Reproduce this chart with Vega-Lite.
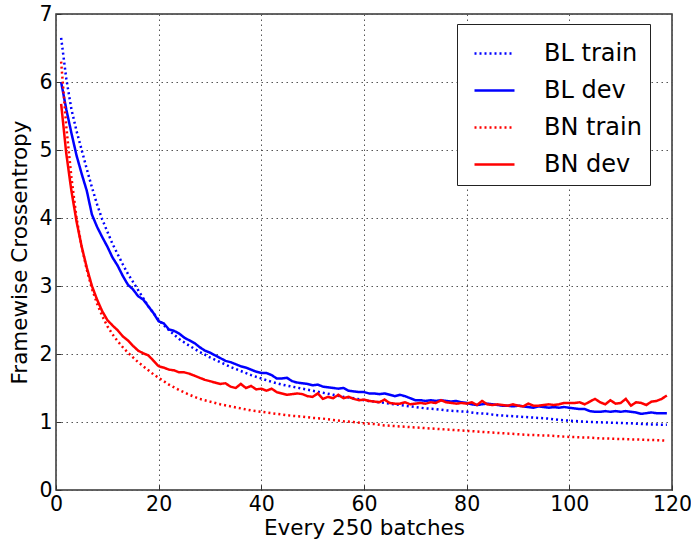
{
  "$schema": "https://vega.github.io/schema/vega-lite/v6.json",
  "width": 616,
  "height": 476,
  "autosize": "none",
  "padding": {"left": 56, "top": 14, "right": 19, "bottom": 52},
  "background": "white",
  "config": {
    "font": "DejaVu Sans",
    "view": {"stroke": "#333", "strokeWidth": 1.5},
    "axis": {
      "labelFont": "DejaVu Sans",
      "titleFont": "DejaVu Sans",
      "labelFontSize": 20.5,
      "titleFontSize": 21.5,
      "labelColor": "black",
      "titleColor": "black",
      "titleFontWeight": "normal",
      "gridColor": "#555",
      "gridDash": [1.5, 3.5],
      "gridWidth": 1,
      "domain": false,
      "tickColor": "#333",
      "tickSize": -5,
      "labelPadding": 9
    }
  },
  "data": {
    "values": [
      {"x":1,"s":"BL train","y":6.65},{"x":2,"s":"BL train","y":6.05},{"x":3,"s":"BL train","y":5.6},{"x":4,"s":"BL train","y":5.28},{"x":5,"s":"BL train","y":5.0},{"x":6,"s":"BL train","y":4.72},{"x":7,"s":"BL train","y":4.45},{"x":8,"s":"BL train","y":4.2},{"x":9,"s":"BL train","y":3.98},{"x":10,"s":"BL train","y":3.8},{"x":11,"s":"BL train","y":3.62},{"x":12,"s":"BL train","y":3.47},{"x":13,"s":"BL train","y":3.32},{"x":14,"s":"BL train","y":3.18},{"x":15,"s":"BL train","y":3.06},{"x":16,"s":"BL train","y":2.94},{"x":17,"s":"BL train","y":2.82},{"x":18,"s":"BL train","y":2.7},{"x":19,"s":"BL train","y":2.6},{"x":20,"s":"BL train","y":2.5},{"x":22,"s":"BL train","y":2.35},{"x":24,"s":"BL train","y":2.22},{"x":26,"s":"BL train","y":2.12},{"x":28,"s":"BL train","y":2.03},{"x":30,"s":"BL train","y":1.95},{"x":32,"s":"BL train","y":1.88},{"x":34,"s":"BL train","y":1.81},{"x":36,"s":"BL train","y":1.75},{"x":38,"s":"BL train","y":1.69},{"x":40,"s":"BL train","y":1.64},{"x":42,"s":"BL train","y":1.59},{"x":44,"s":"BL train","y":1.55},{"x":46,"s":"BL train","y":1.52},{"x":48,"s":"BL train","y":1.49},{"x":50,"s":"BL train","y":1.46},{"x":52,"s":"BL train","y":1.43},{"x":54,"s":"BL train","y":1.4},{"x":56,"s":"BL train","y":1.37},{"x":58,"s":"BL train","y":1.35},{"x":60,"s":"BL train","y":1.32},{"x":62,"s":"BL train","y":1.3},{"x":64,"s":"BL train","y":1.28},{"x":66,"s":"BL train","y":1.26},{"x":68,"s":"BL train","y":1.24},{"x":70,"s":"BL train","y":1.22},{"x":72,"s":"BL train","y":1.2},{"x":74,"s":"BL train","y":1.19},{"x":76,"s":"BL train","y":1.17},{"x":78,"s":"BL train","y":1.16},{"x":80,"s":"BL train","y":1.15},{"x":82,"s":"BL train","y":1.13},{"x":84,"s":"BL train","y":1.12},{"x":86,"s":"BL train","y":1.1},{"x":88,"s":"BL train","y":1.09},{"x":90,"s":"BL train","y":1.08},{"x":92,"s":"BL train","y":1.07},{"x":94,"s":"BL train","y":1.06},{"x":96,"s":"BL train","y":1.05},{"x":98,"s":"BL train","y":1.03},{"x":100,"s":"BL train","y":1.02},{"x":102,"s":"BL train","y":1.01},{"x":104,"s":"BL train","y":1.0},{"x":106,"s":"BL train","y":0.995},{"x":108,"s":"BL train","y":0.99},{"x":110,"s":"BL train","y":0.985},{"x":112,"s":"BL train","y":0.98},{"x":114,"s":"BL train","y":0.97},{"x":116,"s":"BL train","y":0.965},{"x":118,"s":"BL train","y":0.96},{"x":119,"s":"BL train","y":0.96},

      {"x":1,"s":"BL dev","y":6.0},{"x":2,"s":"BL dev","y":5.6},{"x":3,"s":"BL dev","y":5.25},{"x":4,"s":"BL dev","y":4.92},{"x":5,"s":"BL dev","y":4.65},{"x":6,"s":"BL dev","y":4.4},{"x":7,"s":"BL dev","y":4.05},{"x":8,"s":"BL dev","y":3.87},{"x":9,"s":"BL dev","y":3.72},{"x":10,"s":"BL dev","y":3.58},{"x":11,"s":"BL dev","y":3.42},{"x":12,"s":"BL dev","y":3.3},{"x":13,"s":"BL dev","y":3.15},{"x":14,"s":"BL dev","y":3.02},{"x":15,"s":"BL dev","y":2.95},{"x":16,"s":"BL dev","y":2.85},{"x":17,"s":"BL dev","y":2.8},{"x":18,"s":"BL dev","y":2.7},{"x":19,"s":"BL dev","y":2.6},{"x":20,"s":"BL dev","y":2.48},{"x":21,"s":"BL dev","y":2.45},{"x":22,"s":"BL dev","y":2.36},{"x":23,"s":"BL dev","y":2.34},{"x":24,"s":"BL dev","y":2.3},{"x":25,"s":"BL dev","y":2.24},{"x":26,"s":"BL dev","y":2.2},{"x":27,"s":"BL dev","y":2.16},{"x":28,"s":"BL dev","y":2.1},{"x":29,"s":"BL dev","y":2.05},{"x":30,"s":"BL dev","y":2.02},{"x":31,"s":"BL dev","y":1.98},{"x":32,"s":"BL dev","y":1.94},{"x":33,"s":"BL dev","y":1.9},{"x":34,"s":"BL dev","y":1.88},{"x":35,"s":"BL dev","y":1.85},{"x":36,"s":"BL dev","y":1.82},{"x":37,"s":"BL dev","y":1.8},{"x":38,"s":"BL dev","y":1.77},{"x":39,"s":"BL dev","y":1.74},{"x":40,"s":"BL dev","y":1.72},{"x":41,"s":"BL dev","y":1.72},{"x":42,"s":"BL dev","y":1.69},{"x":43,"s":"BL dev","y":1.64},{"x":44,"s":"BL dev","y":1.64},{"x":45,"s":"BL dev","y":1.65},{"x":46,"s":"BL dev","y":1.6},{"x":47,"s":"BL dev","y":1.58},{"x":48,"s":"BL dev","y":1.57},{"x":49,"s":"BL dev","y":1.56},{"x":50,"s":"BL dev","y":1.54},{"x":51,"s":"BL dev","y":1.55},{"x":52,"s":"BL dev","y":1.52},{"x":53,"s":"BL dev","y":1.51},{"x":54,"s":"BL dev","y":1.5},{"x":55,"s":"BL dev","y":1.49},{"x":56,"s":"BL dev","y":1.5},{"x":57,"s":"BL dev","y":1.46},{"x":58,"s":"BL dev","y":1.45},{"x":59,"s":"BL dev","y":1.44},{"x":60,"s":"BL dev","y":1.44},{"x":61,"s":"BL dev","y":1.42},{"x":62,"s":"BL dev","y":1.42},{"x":63,"s":"BL dev","y":1.41},{"x":64,"s":"BL dev","y":1.42},{"x":65,"s":"BL dev","y":1.4},{"x":66,"s":"BL dev","y":1.38},{"x":67,"s":"BL dev","y":1.4},{"x":68,"s":"BL dev","y":1.38},{"x":69,"s":"BL dev","y":1.35},{"x":70,"s":"BL dev","y":1.32},{"x":71,"s":"BL dev","y":1.32},{"x":72,"s":"BL dev","y":1.31},{"x":73,"s":"BL dev","y":1.32},{"x":74,"s":"BL dev","y":1.31},{"x":75,"s":"BL dev","y":1.32},{"x":76,"s":"BL dev","y":1.31},{"x":77,"s":"BL dev","y":1.3},{"x":78,"s":"BL dev","y":1.31},{"x":79,"s":"BL dev","y":1.29},{"x":80,"s":"BL dev","y":1.28},{"x":81,"s":"BL dev","y":1.26},{"x":82,"s":"BL dev","y":1.25},{"x":83,"s":"BL dev","y":1.26},{"x":84,"s":"BL dev","y":1.27},{"x":85,"s":"BL dev","y":1.26},{"x":86,"s":"BL dev","y":1.25},{"x":87,"s":"BL dev","y":1.24},{"x":88,"s":"BL dev","y":1.24},{"x":89,"s":"BL dev","y":1.23},{"x":90,"s":"BL dev","y":1.24},{"x":91,"s":"BL dev","y":1.23},{"x":92,"s":"BL dev","y":1.22},{"x":93,"s":"BL dev","y":1.21},{"x":94,"s":"BL dev","y":1.23},{"x":95,"s":"BL dev","y":1.22},{"x":96,"s":"BL dev","y":1.21},{"x":97,"s":"BL dev","y":1.22},{"x":98,"s":"BL dev","y":1.21},{"x":99,"s":"BL dev","y":1.22},{"x":100,"s":"BL dev","y":1.21},{"x":101,"s":"BL dev","y":1.2},{"x":102,"s":"BL dev","y":1.19},{"x":103,"s":"BL dev","y":1.19},{"x":104,"s":"BL dev","y":1.16},{"x":105,"s":"BL dev","y":1.15},{"x":106,"s":"BL dev","y":1.15},{"x":107,"s":"BL dev","y":1.16},{"x":108,"s":"BL dev","y":1.15},{"x":109,"s":"BL dev","y":1.16},{"x":110,"s":"BL dev","y":1.15},{"x":111,"s":"BL dev","y":1.16},{"x":112,"s":"BL dev","y":1.15},{"x":113,"s":"BL dev","y":1.14},{"x":114,"s":"BL dev","y":1.12},{"x":115,"s":"BL dev","y":1.13},{"x":116,"s":"BL dev","y":1.14},{"x":117,"s":"BL dev","y":1.13},{"x":118,"s":"BL dev","y":1.13},{"x":119,"s":"BL dev","y":1.13},

      {"x":1,"s":"BN train","y":6.3},{"x":2,"s":"BN train","y":5.35},{"x":3,"s":"BN train","y":4.6},{"x":4,"s":"BN train","y":4.0},{"x":5,"s":"BN train","y":3.58},{"x":6,"s":"BN train","y":3.24},{"x":7,"s":"BN train","y":2.96},{"x":8,"s":"BN train","y":2.74},{"x":9,"s":"BN train","y":2.56},{"x":10,"s":"BN train","y":2.41},{"x":11,"s":"BN train","y":2.29},{"x":12,"s":"BN train","y":2.19},{"x":13,"s":"BN train","y":2.1},{"x":14,"s":"BN train","y":2.02},{"x":15,"s":"BN train","y":1.95},{"x":16,"s":"BN train","y":1.88},{"x":17,"s":"BN train","y":1.82},{"x":18,"s":"BN train","y":1.76},{"x":19,"s":"BN train","y":1.7},{"x":20,"s":"BN train","y":1.65},{"x":22,"s":"BN train","y":1.55},{"x":24,"s":"BN train","y":1.47},{"x":26,"s":"BN train","y":1.4},{"x":28,"s":"BN train","y":1.34},{"x":30,"s":"BN train","y":1.3},{"x":32,"s":"BN train","y":1.26},{"x":34,"s":"BN train","y":1.23},{"x":36,"s":"BN train","y":1.2},{"x":38,"s":"BN train","y":1.17},{"x":40,"s":"BN train","y":1.15},{"x":42,"s":"BN train","y":1.13},{"x":44,"s":"BN train","y":1.11},{"x":46,"s":"BN train","y":1.09},{"x":48,"s":"BN train","y":1.08},{"x":50,"s":"BN train","y":1.06},{"x":52,"s":"BN train","y":1.05},{"x":54,"s":"BN train","y":1.03},{"x":56,"s":"BN train","y":1.01},{"x":58,"s":"BN train","y":1.0},{"x":60,"s":"BN train","y":0.98},{"x":62,"s":"BN train","y":0.97},{"x":64,"s":"BN train","y":0.95},{"x":66,"s":"BN train","y":0.94},{"x":68,"s":"BN train","y":0.93},{"x":70,"s":"BN train","y":0.92},{"x":72,"s":"BN train","y":0.91},{"x":74,"s":"BN train","y":0.9},{"x":76,"s":"BN train","y":0.89},{"x":78,"s":"BN train","y":0.88},{"x":80,"s":"BN train","y":0.87},{"x":82,"s":"BN train","y":0.86},{"x":84,"s":"BN train","y":0.85},{"x":86,"s":"BN train","y":0.84},{"x":88,"s":"BN train","y":0.83},{"x":90,"s":"BN train","y":0.82},{"x":92,"s":"BN train","y":0.81},{"x":94,"s":"BN train","y":0.805},{"x":96,"s":"BN train","y":0.8},{"x":98,"s":"BN train","y":0.79},{"x":100,"s":"BN train","y":0.78},{"x":102,"s":"BN train","y":0.775},{"x":104,"s":"BN train","y":0.77},{"x":106,"s":"BN train","y":0.76},{"x":108,"s":"BN train","y":0.755},{"x":110,"s":"BN train","y":0.75},{"x":112,"s":"BN train","y":0.745},{"x":114,"s":"BN train","y":0.74},{"x":116,"s":"BN train","y":0.735},{"x":118,"s":"BN train","y":0.73},{"x":119,"s":"BN train","y":0.725},

      {"x":1,"s":"BN dev","y":5.68},{"x":2,"s":"BN dev","y":4.95},{"x":3,"s":"BN dev","y":4.4},{"x":4,"s":"BN dev","y":3.95},{"x":5,"s":"BN dev","y":3.58},{"x":6,"s":"BN dev","y":3.27},{"x":7,"s":"BN dev","y":3.0},{"x":8,"s":"BN dev","y":2.8},{"x":9,"s":"BN dev","y":2.63},{"x":10,"s":"BN dev","y":2.5},{"x":11,"s":"BN dev","y":2.42},{"x":12,"s":"BN dev","y":2.35},{"x":13,"s":"BN dev","y":2.26},{"x":14,"s":"BN dev","y":2.2},{"x":15,"s":"BN dev","y":2.12},{"x":16,"s":"BN dev","y":2.05},{"x":17,"s":"BN dev","y":2.01},{"x":18,"s":"BN dev","y":1.98},{"x":19,"s":"BN dev","y":1.9},{"x":20,"s":"BN dev","y":1.82},{"x":21,"s":"BN dev","y":1.8},{"x":22,"s":"BN dev","y":1.77},{"x":23,"s":"BN dev","y":1.76},{"x":24,"s":"BN dev","y":1.73},{"x":25,"s":"BN dev","y":1.73},{"x":26,"s":"BN dev","y":1.71},{"x":27,"s":"BN dev","y":1.68},{"x":28,"s":"BN dev","y":1.65},{"x":29,"s":"BN dev","y":1.62},{"x":30,"s":"BN dev","y":1.6},{"x":31,"s":"BN dev","y":1.58},{"x":32,"s":"BN dev","y":1.56},{"x":33,"s":"BN dev","y":1.57},{"x":34,"s":"BN dev","y":1.52},{"x":35,"s":"BN dev","y":1.5},{"x":36,"s":"BN dev","y":1.56},{"x":37,"s":"BN dev","y":1.5},{"x":38,"s":"BN dev","y":1.53},{"x":39,"s":"BN dev","y":1.48},{"x":40,"s":"BN dev","y":1.49},{"x":41,"s":"BN dev","y":1.46},{"x":42,"s":"BN dev","y":1.49},{"x":43,"s":"BN dev","y":1.44},{"x":44,"s":"BN dev","y":1.42},{"x":45,"s":"BN dev","y":1.4},{"x":46,"s":"BN dev","y":1.41},{"x":47,"s":"BN dev","y":1.42},{"x":48,"s":"BN dev","y":1.41},{"x":49,"s":"BN dev","y":1.38},{"x":50,"s":"BN dev","y":1.37},{"x":51,"s":"BN dev","y":1.42},{"x":52,"s":"BN dev","y":1.34},{"x":53,"s":"BN dev","y":1.37},{"x":54,"s":"BN dev","y":1.35},{"x":55,"s":"BN dev","y":1.4},{"x":56,"s":"BN dev","y":1.35},{"x":57,"s":"BN dev","y":1.37},{"x":58,"s":"BN dev","y":1.34},{"x":59,"s":"BN dev","y":1.32},{"x":60,"s":"BN dev","y":1.33},{"x":61,"s":"BN dev","y":1.31},{"x":62,"s":"BN dev","y":1.3},{"x":63,"s":"BN dev","y":1.29},{"x":64,"s":"BN dev","y":1.33},{"x":65,"s":"BN dev","y":1.28},{"x":66,"s":"BN dev","y":1.27},{"x":67,"s":"BN dev","y":1.27},{"x":68,"s":"BN dev","y":1.29},{"x":69,"s":"BN dev","y":1.26},{"x":70,"s":"BN dev","y":1.27},{"x":71,"s":"BN dev","y":1.28},{"x":72,"s":"BN dev","y":1.27},{"x":73,"s":"BN dev","y":1.29},{"x":74,"s":"BN dev","y":1.28},{"x":75,"s":"BN dev","y":1.32},{"x":76,"s":"BN dev","y":1.29},{"x":77,"s":"BN dev","y":1.28},{"x":78,"s":"BN dev","y":1.27},{"x":79,"s":"BN dev","y":1.28},{"x":80,"s":"BN dev","y":1.27},{"x":81,"s":"BN dev","y":1.29},{"x":82,"s":"BN dev","y":1.25},{"x":83,"s":"BN dev","y":1.31},{"x":84,"s":"BN dev","y":1.26},{"x":85,"s":"BN dev","y":1.25},{"x":86,"s":"BN dev","y":1.26},{"x":87,"s":"BN dev","y":1.25},{"x":88,"s":"BN dev","y":1.24},{"x":89,"s":"BN dev","y":1.26},{"x":90,"s":"BN dev","y":1.24},{"x":91,"s":"BN dev","y":1.23},{"x":92,"s":"BN dev","y":1.27},{"x":93,"s":"BN dev","y":1.24},{"x":94,"s":"BN dev","y":1.24},{"x":95,"s":"BN dev","y":1.25},{"x":96,"s":"BN dev","y":1.26},{"x":97,"s":"BN dev","y":1.25},{"x":98,"s":"BN dev","y":1.26},{"x":99,"s":"BN dev","y":1.28},{"x":100,"s":"BN dev","y":1.28},{"x":101,"s":"BN dev","y":1.28},{"x":102,"s":"BN dev","y":1.29},{"x":103,"s":"BN dev","y":1.26},{"x":104,"s":"BN dev","y":1.3},{"x":105,"s":"BN dev","y":1.34},{"x":106,"s":"BN dev","y":1.29},{"x":107,"s":"BN dev","y":1.26},{"x":108,"s":"BN dev","y":1.32},{"x":109,"s":"BN dev","y":1.27},{"x":110,"s":"BN dev","y":1.28},{"x":111,"s":"BN dev","y":1.34},{"x":112,"s":"BN dev","y":1.24},{"x":113,"s":"BN dev","y":1.29},{"x":114,"s":"BN dev","y":1.28},{"x":115,"s":"BN dev","y":1.25},{"x":116,"s":"BN dev","y":1.3},{"x":117,"s":"BN dev","y":1.31},{"x":118,"s":"BN dev","y":1.34},{"x":119,"s":"BN dev","y":1.39}
    ]
  },
  "mark": {"type": "line", "clip": true, "strokeWidth": 2.5},
  "encoding": {
    "x": {
      "field": "x", "type": "quantitative",
      "scale": {"domain": [0, 120], "nice": false, "zero": false},
      "axis": {"values": [0, 20, 40, 60, 80, 100, 120], "title": "Every 250 batches", "titlePadding": 3, "labelFlush": false}
    },
    "y": {
      "field": "y", "type": "quantitative",
      "scale": {"domain": [0, 7], "nice": false},
      "axis": {"values": [0, 1, 2, 3, 4, 5, 6, 7], "title": "Framewise Crossentropy", "titlePadding": 7}
    },
    "color": {
      "field": "s", "type": "nominal",
      "scale": {"domain": ["BL train", "BL dev", "BN train", "BN dev"], "range": ["#0000ff", "#0000ff", "#ff0000", "#ff0000"]},
      "legend": {
        "title": null,
        "orient": "none",
        "legendX": 401,
        "legendY": 10,
        "fillColor": "white",
        "strokeColor": "#222",
        "padding": 8,
        "labelFontSize": 24,
        "labelFont": "DejaVu Sans",
        "labelColor": "black",
        "labelOffset": 28,
        "symbolOffset": 8,
        "symbolType": "stroke",
        "symbolSize": 1600,
        "symbolStrokeWidth": 2.5,
        "rowPadding": 3,
        "labelLimit": 300
      }
    },
    "strokeDash": {
      "field": "s", "type": "nominal",
      "scale": {"domain": ["BL train", "BL dev", "BN train", "BN dev"], "range": [[2, 3], [1, 0], [2, 3], [1, 0]]},
      "legend": null
    }
  }
}
